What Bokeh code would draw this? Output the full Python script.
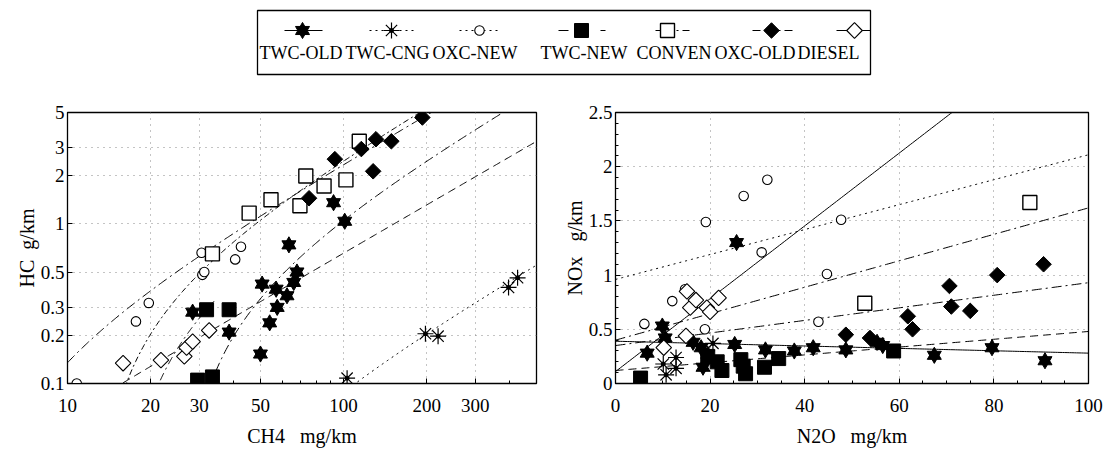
import numpy as np
from bokeh.plotting import figure
from bokeh.layouts import column, row
from bokeh.models import Range1d, FixedTicker, NumeralTickFormatter
from bokeh.embed import file_html
from bokeh.resources import INLINE
from bokeh.core.properties import value

FONT = "Liberation Serif"

# ---------------- data ----------------
series = ["TWC-OLD", "TWC-CNG", "OXC-NEW", "TWC-NEW", "CONVEN", "OXC-OLD", "DIESEL"]

# Left panel: CH4 (mg/km) vs HC (g/km)
ch4_twc_old = [28.4, 38.5, 50, 50.7, 57, 54, 57.5, 62.4, 66, 67.8, 63.4, 92, 101]
hc_twc_old = [0.28, 0.21, 0.153, 0.42, 0.39, 0.24, 0.30, 0.355, 0.43, 0.50, 0.74, 1.36, 1.04]
ch4_twc_cng = [103, 198, 220, 396, 427]
hc_twc_cng = [0.108, 0.205, 0.198, 0.40, 0.46]
ch4_oxc_new = [10.8, 17.7, 19.7, 30.8, 31.3, 30.6, 40.5, 42.5]
hc_oxc_new = [0.10, 0.245, 0.32, 0.48, 0.50, 0.66, 0.60, 0.72]
ch4_twc_new = [31.9, 38.5, 29.6, 33.5]
hc_twc_new = [0.29, 0.29, 0.105, 0.11]
ch4_conven = [33.5, 45.5, 54.6, 69.5, 73, 85, 102, 114]
hc_conven = [0.65, 1.17, 1.42, 1.30, 2.0, 1.73, 1.89, 3.3]
ch4_oxc_old = [75, 93, 116, 128, 131, 149, 193]
hc_oxc_old = [1.45, 2.55, 2.95, 2.14, 3.4, 3.3, 4.65]
ch4_diesel = [15.9, 21.8, 26.5, 27, 28.4, 32.6]
hc_diesel = [0.134, 0.14, 0.148, 0.168, 0.183, 0.215]

# Right panel: N2O (mg/km) vs NOx (g/km)
n2o_twc_old = [6.7, 9.9, 10.5, 16.4, 18.1, 18.5, 19.5, 25.2, 25.6, 31.7, 37.8, 41.8, 48.7, 55.3, 56.5, 67.4, 79.6, 90.8]
nox_twc_old = [0.28, 0.53, 0.42, 0.38, 0.33, 0.15, 0.27, 0.36, 1.30, 0.31, 0.30, 0.33, 0.31, 0.38, 0.35, 0.26, 0.33, 0.21]
n2o_twc_cng = [10.1, 10.7, 12.8, 12.8, 20.6]
nox_twc_cng = [0.18, 0.08, 0.24, 0.14, 0.37]
n2o_oxc_new = [6.1, 12, 14.7, 18.9, 19.1, 27.1, 30.9, 32.1, 42.9, 44.7, 47.7]
nox_oxc_new = [0.55, 0.76, 0.87, 0.50, 1.49, 1.73, 1.21, 1.88, 0.57, 1.01, 1.51]
n2o_twc_new = [5.3, 19.5, 21.5, 22.5, 26.5, 27, 27.5, 31.5, 34.5, 58.8]
nox_twc_new = [0.05, 0.25, 0.20, 0.12, 0.22, 0.16, 0.09, 0.15, 0.23, 0.30]
n2o_conven = [52.7, 87.6]
nox_conven = [0.74, 1.67]
n2o_oxc_old = [48.7, 53.8, 61.8, 62.8, 70.6, 71, 75, 80.7, 90.5]
nox_oxc_old = [0.45, 0.42, 0.62, 0.50, 0.90, 0.71, 0.67, 1.0, 1.10]
n2o_diesel = [10.2, 14.9, 15.1, 15.8, 17, 19.3, 20, 21.8]
nox_diesel = [0.33, 0.44, 0.85, 0.70, 0.77, 0.70, 0.66, 0.79]

# regression lines: intercept, slope, x-span
left_fit_a = [-0.111, -0.364, -0.29, -0.37, -0.004, -0.028]
left_fit_b = [0.0246, 0.0284, 0.0182, 0.0142, 0.0066, 0.00116]
left_fit_x0 = [10, 10, 10, 10, 10, 10]
left_fit_x1 = [500, 500, 34, 500, 500, 500]
left_fit_dash = ["10 4 2 4", "6 3 2 3", "8 4 2 4", "10 4 2 4", "8 5", "2 4"]

right_fit_a = [0.11, 0.39, 0.96, 0.40, 0.35, 0.12]
right_fit_b = [0.0336, -0.0011, 0.0115, 0.0122, 0.0058, 0.0036]
right_fit_dash = ["solid", "solid", "2 4", "10 4 2 4", "10 4 2 4", "8 5"]

x_ticks_left = [10, 20, 30, 50, 100, 200, 300]
x_minor_left = [40, 60, 70, 80, 90, 400]
y_ticks_left = [0.1, 0.2, 0.3, 0.5, 1, 2, 3, 5]
x_ticks_right = [0, 20, 40, 60, 80, 100]
y_ticks_right = [0, 0.5, 1, 1.5, 2, 2.5]

# ---------------- helpers ----------------
def draw(p, kind, x, y, scale=1.0):
    if kind == "star6":
        for m in ("triangle", "inverted_triangle"):
            p.scatter(x, y, marker=m, size=14 * scale, fill_color="black", line_color="black")
    elif kind == "asterisk":
        p.scatter(x, y, marker="asterisk", size=16 * scale, line_color="black", line_width=1.2)
        p.scatter(x, y, marker="circle", size=4 * scale, fill_color="black", line_color="black")
    elif kind == "circle_open":
        p.scatter(x, y, marker="circle", size=9.5 * scale, fill_color="white", line_color="black", line_width=1.1)
    elif kind == "square_filled":
        p.scatter(x, y, marker="square", size=14 * scale, fill_color="black", line_color="black")
    elif kind == "square_open":
        p.scatter(x, y, marker="square", size=14 * scale, fill_color="white", line_color="black", line_width=1.4)
    elif kind == "diamond_filled":
        p.scatter(x, y, marker="square", angle=np.pi / 4, size=11 * scale, fill_color="black", line_color="black")
    elif kind == "diamond_open":
        p.scatter(x, y, marker="square", angle=np.pi / 4, size=11 * scale, fill_color="white", line_color="black", line_width=1.1)

kinds = ["star6", "asterisk", "circle_open", "square_filled", "square_open", "diamond_filled", "diamond_open"]

def style(p, xlabel, ylabel):
    p.outline_line_color = "black"
    p.outline_line_width = 1.3
    p.background_fill_color = "white"
    p.border_fill_color = "white"
    for ax in (p.xaxis[0], p.yaxis[0]):
        ax.axis_line_color = "black"
        ax.major_tick_in = 5
        ax.major_tick_out = 0
        ax.minor_tick_in = 3
        ax.minor_tick_out = 0
        ax.major_label_text_font = FONT
        ax.major_label_text_font_size = "19px"
        ax.major_label_text_color = "black"
        ax.axis_label_text_font = FONT
        ax.axis_label_text_font_size = "20px"
        ax.axis_label_text_font_style = "normal"
        ax.axis_label_text_color = "black"
    p.xaxis.axis_label = xlabel
    p.yaxis.axis_label = ylabel
    p.xaxis.major_label_standoff = 15
    p.xaxis.axis_label_standoff = 10
    p.yaxis.major_label_standoff = 3
    p.yaxis.axis_label_standoff = 0
    p.xgrid.grid_line_color = "#888888"
    p.ygrid.grid_line_color = "#888888"
    p.xgrid.grid_line_dash = "1 5"
    p.ygrid.grid_line_dash = "1 5"

# ---------------- legend strip (page coordinates) ----------------
lg = figure(width=1104, height=90, x_range=Range1d(0, 1104), y_range=Range1d(90, 0),
            output_backend="svg", toolbar_location=None, min_border=0)
lg.axis.visible = False
lg.grid.visible = False
lg.outline_line_color = None
lg.quad(left=[257], right=[870], top=[10], bottom=[74], fill_color=None, line_color="black", line_width=1.3)
leg_marker_x = [302, 391, 479, 581, 667, 771, 854]
leg_text_x = [259, 345, 432, 540, 636, 714, 797]
# (left end, right end, dash) of each legend line sample
leg_line_l = [284, 369, 459, 558, 655, 752, 836]
leg_line_r = [322, 413, 498, 605, 692, 795, 870]
leg_dash = ["solid", "2 4", "2 4", "10 32", "7 8 2 4 2 4", "8 12 2 4 2 4", "solid"]
for i, k in enumerate(kinds):
    lg.line([leg_line_l[i], leg_line_r[i]], [30, 30], line_color="black", line_width=1.2, line_dash=leg_dash[i])
    draw(lg, k, [leg_marker_x[i]], [30])
lg.text(x=leg_text_x, y=[52] * 7, text=series, text_align="left", text_baseline="middle",
        text_font=value(FONT), text_font_size=value("18px"), text_color="black")

# ---------------- left panel ----------------
p1 = figure(width=560, height=360, x_axis_type="log", y_axis_type="log",
            x_range=Range1d(10, 500), y_range=Range1d(0.1, 5),
            output_backend="svg", toolbar_location=None,
            min_border_left=67, min_border_right=24, min_border_top=18, min_border_bottom=66)
style(p1, "CH4\u00a0\u00a0\u00a0mg/km", "HC\u00a0\u00a0g/km")
p1.xaxis.ticker = FixedTicker(ticks=x_ticks_left, minor_ticks=x_minor_left)
p1.yaxis.ticker = FixedTicker(ticks=y_ticks_left, minor_ticks=[])
p1.xaxis.formatter = NumeralTickFormatter(format="0.[0]")
p1.yaxis.formatter = NumeralTickFormatter(format="0.[0]")
p1.xgrid.ticker = FixedTicker(ticks=x_ticks_left[1:])
p1.ygrid.ticker = FixedTicker(ticks=y_ticks_left[1:-1])

for a, b, x0, x1, d in zip(left_fit_a, left_fit_b, left_fit_x0, left_fit_x1, left_fit_dash):
    xs = np.geomspace(x0, x1, 400)
    ys = a + b * xs
    ys = np.where(ys > 0.05, ys, np.nan)
    p1.line(xs, ys, line_color="black", line_width=1.0, line_dash=d)

left_data = [(ch4_twc_old, hc_twc_old), (ch4_twc_cng, hc_twc_cng), (ch4_oxc_new, hc_oxc_new),
             (ch4_twc_new, hc_twc_new), (ch4_conven, hc_conven), (ch4_oxc_old, hc_oxc_old),
             (ch4_diesel, hc_diesel)]
for k, (x, y) in zip(kinds, left_data):
    draw(p1, k, x, y)

# ---------------- right panel ----------------
p2 = figure(width=544, height=360, x_range=Range1d(0, 100), y_range=Range1d(0, 2.5),
            output_backend="svg", toolbar_location=None,
            min_border_left=52, min_border_right=16, min_border_top=22, min_border_bottom=67)
style(p2, "N2O\u00a0\u00a0\u00a0mg/km", "NOx\u00a0\u00a0\u00a0g/km")
p2.xaxis.ticker = FixedTicker(ticks=x_ticks_right, minor_ticks=list(range(0, 101, 5)))
p2.yaxis.ticker = FixedTicker(ticks=y_ticks_right, minor_ticks=[i / 10 for i in range(26)])
p2.xgrid.ticker = FixedTicker(ticks=x_ticks_right[1:-1])
p2.ygrid.ticker = FixedTicker(ticks=y_ticks_right[1:-1])
p2.yaxis.formatter = NumeralTickFormatter(format="0.[0]")

xr = np.linspace(0, 100, 200)
for a, b, d in zip(right_fit_a, right_fit_b, right_fit_dash):
    p2.line(xr, a + b * xr, line_color="black", line_width=1.0, line_dash=d)

right_data = [(n2o_twc_old, nox_twc_old), (n2o_twc_cng, nox_twc_cng), (n2o_oxc_new, nox_oxc_new),
              (n2o_twc_new, nox_twc_new), (n2o_conven, nox_conven), (n2o_oxc_old, nox_oxc_old),
              (n2o_diesel, nox_diesel)]
for k, (x, y) in zip(kinds, right_data):
    draw(p2, k, x, y)

layout = column(lg, row(p1, p2, spacing=0), spacing=0)
open("out.html", "w").write(file_html(layout, INLINE))
